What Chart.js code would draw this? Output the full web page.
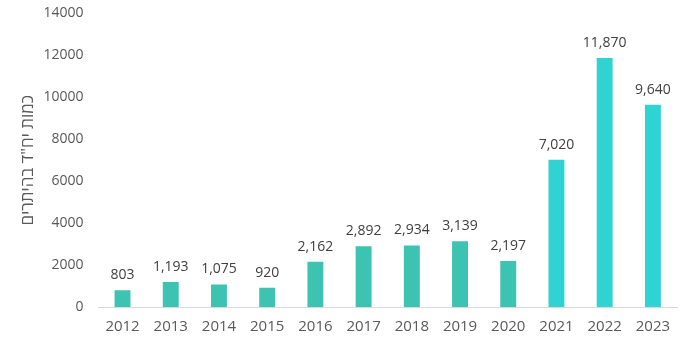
<!DOCTYPE html>
<html>
<head>
<meta charset="utf-8">
<script src="https://cdn.jsdelivr.net/npm/chart.js@4/dist/chart.umd.min.js"></script>
<style>
  html, body { margin: 0; padding: 0; background: #fff; }
  #wrap { width: 693px; height: 342px; }
</style>
</head>
<body>
<div id="wrap"><canvas id="c"></canvas></div>
<script>
const years = ["2012", "2013", "2014", "2015", "2016", "2017", "2018", "2019", "2020", "2021", "2022", "2023"];
const units = [803, 1193, 1075, 920, 2162, 2892, 2934, 3139, 2197, 7020, 11870, 9640];
const barColors = ["#3cc3b1", "#3cc3b1", "#3cc3b1", "#3cc3b1", "#3cc3b1", "#3cc3b1", "#3cc3b1", "#3cc3b1", "#3cc3b1", "#2fd3d2", "#2fd3d2", "#2fd3d2"];
const yTitle = "כמות יח\"ד בהיתרים";

// draw the value above each bar
const valueLabels = {
  id: "valueLabels",
  afterDatasetsDraw(chart) {
    const ctx = chart.ctx;
    const meta = chart.getDatasetMeta(0);
    ctx.save();
    ctx.font = "14px 'Open Sans'";
    ctx.fillStyle = "#404040";
    ctx.textAlign = "center";
    ctx.textBaseline = "bottom";
    meta.data.forEach((bar, i) => {
      ctx.fillText(units[i].toLocaleString("en-US"), bar.x, bar.y - 8);
    });
    ctx.restore();
  }
};

new Chart(document.getElementById("c"), {
  type: "bar",
  data: {
    labels: years,
    datasets: [{
      data: units,
      backgroundColor: barColors,
      barPercentage: 0.5,
      categoryPercentage: 0.66,
    }],
  },
  options: {
    responsive: true,
    maintainAspectRatio: false,
    animation: false,
    layout: { padding: { top: 0, right: 16, left: 14, bottom: -5 } },
    plugins: {
      legend: { display: false },
      tooltip: { enabled: false },
    },
    scales: {
      x: {
        grid: { display: false, drawTicks: false },
        border: { color: "#d9d9d9" },
        ticks: { color: "#595959", font: { family: "Open Sans", size: 15 }, padding: 11 },
      },
      y: {
        min: 0,
        max: 14000,
        // hidden tick marks only push the labels away from the plot
        grid: { display: false, drawTicks: true, tickLength: 10 },
        border: { display: false },
        ticks: {
          stepSize: 2000,
          color: "#595959",
          font: { family: "Open Sans", size: 14 },
          padding: 5,
          callback: (v) => String(v),
        },
        title: {
          display: true,
          text: yTitle,
          color: "#595959",
          font: { family: "Open Sans", size: 17 },
          padding: { top: 4, bottom: 0 },
        },
      },
    },
  },
  plugins: [valueLabels],
});
</script>
</body>
</html>
